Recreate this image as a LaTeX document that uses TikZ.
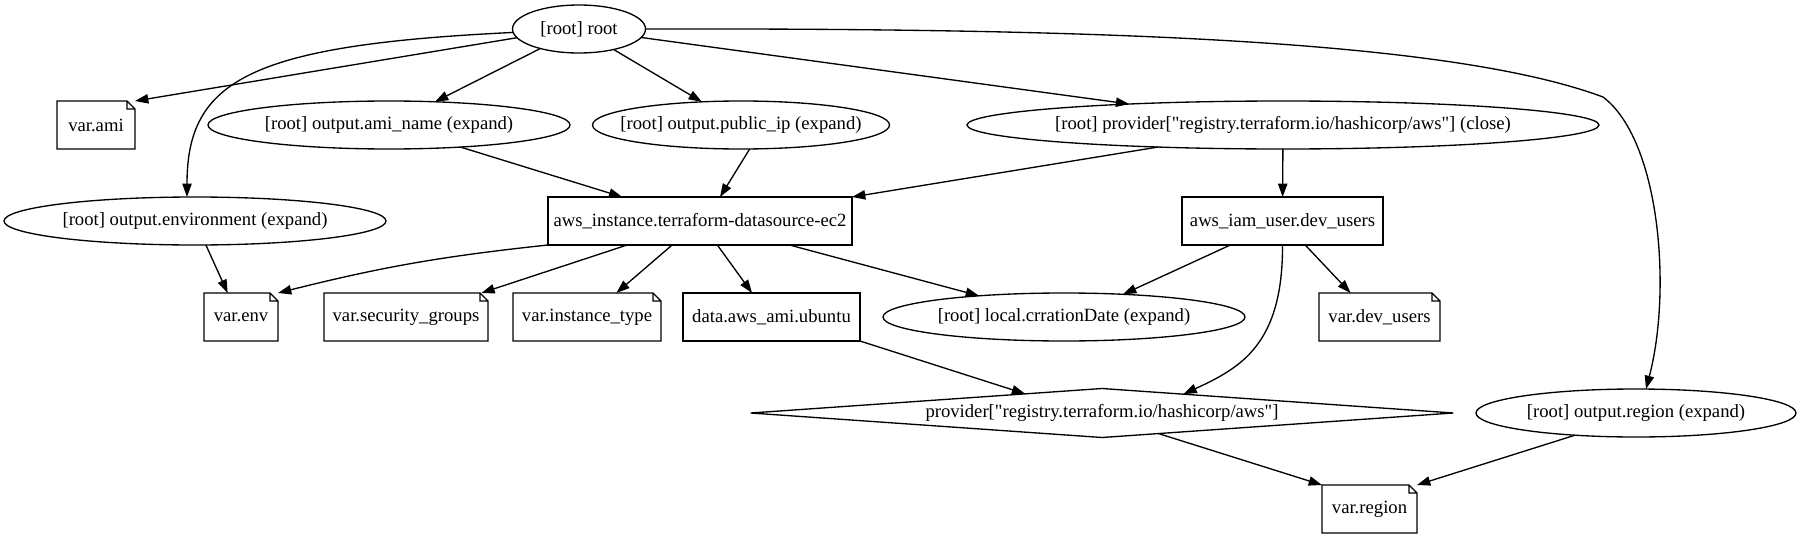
\documentclass[tikz,border=0pt]{standalone}
\usepackage{fontspec}
\setmainfont{Liberation Serif}[Ligatures=TeXOff]
\usetikzlibrary{arrows.meta,shapes.geometric}
\newcommand\notefold[1]{%
  \draw[line width=1pt] (#1.north west) -- ([xshift=-6pt]#1.north east) -- ([yshift=-6pt]#1.north east) -- (#1.south east) -- (#1.south west) -- cycle
    ([xshift=-6pt]#1.north east) |- ([yshift=-6pt]#1.north east);}
\begin{document}
\begin{tikzpicture}[x=0.75pt,y=-0.75pt, line width=1pt,
  every node/.style={font=\fontsize{14}{16}\selectfont, inner sep=0pt, outer sep=0pt, line width=1pt},
  ell/.style={ellipse, draw, inner xsep=-30pt, minimum height=36pt},
  boxn/.style={rectangle, draw, minimum height=36pt},
  notef/.style={rectangle, minimum height=36pt},
  arr/.style={-{Triangle[length=10pt,width=7pt]}}]
\useasboundingbox (0,0) rectangle (1803,539);

\node[ell, minimum width=99.75pt] (root) at (579,29) {[root] root};
\node[notef, minimum width=58.5pt] (varami) at (96,125) {var.ami};
\node[ell, minimum width=271.5pt] (aminame) at (389,125) {[root] output.ami\_name (expand)};
\node[ell, minimum width=222.75pt] (publicip) at (741,125) {[root] output.public\_ip (expand)};
\node[ell, minimum width=474pt] (provclose) at (1283,125) {[root] provider["registry.terraform.io/hashicorp/aws"] (close)};
\node[ell, minimum width=286.5pt] (env) at (195,221) {[root] output.environment (expand)};
\node[boxn, minimum width=228pt] (instance) at (700,221) {aws\_instance.terraform-datasource-ec2};
\node[boxn, minimum width=150.75pt] (iamuser) at (1282.5,221) {aws\_iam\_user.dev\_users};
\node[notef, minimum width=55.5pt] (varenv) at (241,317) {var.env};
\node[notef, minimum width=123pt] (secgroups) at (406,317) {var.security\_groups};
\node[notef, minimum width=111pt] (insttype) at (587,317) {var.instance\_type};
\node[boxn, minimum width=132.75pt] (data) at (771.5,317) {data.aws\_ami.ubuntu};
\node[ell, minimum width=271.5pt] (local) at (1064,317) {[root] local.crrationDate (expand)};
\node[notef, minimum width=90.75pt] (devusers) at (1379.5,317) {var.dev\_users};
\node[diamond, draw, aspect=14.3, minimum width=527pt, minimum height=36.75pt] (diam) at (1102,413) {provider["registry.terraform.io/hashicorp/aws"]};
\node[ell, minimum width=240pt] (oregion) at (1636,413) {[root] output.region (expand)};
\node[notef, minimum width=71.25pt] (varregion) at (1369.5,509) {var.region};

\notefold{varami}
\notefold{varenv}
\notefold{secgroups}
\notefold{insttype}
\notefold{devusers}
\notefold{varregion}

\draw[arr] (root.188) -- (varami.north east);
\draw[arr] (root.183) .. controls (250,45) and (187,80) .. ([xshift=-6pt]env.north);
\draw[arr] (root) -- (aminame);
\draw[arr] (root) -- (publicip);
\draw[arr] (root) -- (provclose);
\draw[arr] (root.east) .. controls (1100,28) and (1450,40) .. (1603,97) .. controls (1660,140) and (1672,290) .. ([xshift=7.5pt]oregion.north);
\draw[arr] (aminame) -- (instance);
\draw[arr] (publicip.-70) -- ([xshift=15pt]instance.north);
\draw[arr] (provclose.-170.7) -- (instance.north east);
\draw[arr] (provclose) -- (iamuser);
\draw[arr] (instance.south west) to[bend right=4] (varenv.north east);
\draw[arr] (instance) -- ([xshift=-5pt]secgroups.north east);
\draw[arr] (instance) -- ([xshift=22pt]insttype.north);
\draw[arr] (instance) -- ([xshift=-14.6pt]data.north);
\draw[arr] (instance) -- (local.166.8);
\draw[arr] (iamuser) -- (local.21.8);
\draw[arr] (iamuser) -- ([xshift=-21.7pt]devusers.north);
\draw[arr] (iamuser.south) .. controls (1283,345) and (1240,368) .. (diam.13.5);
\draw[arr] (data.south east) -- (diam.166.5);
\draw[arr] (env) -- ([xshift=-10pt]varenv.north);
\draw[arr] (diam.-20.2) -- (varregion.north west);
\draw[arr] (oregion.-160) -- (varregion.north east);
\end{tikzpicture}
\end{document}
